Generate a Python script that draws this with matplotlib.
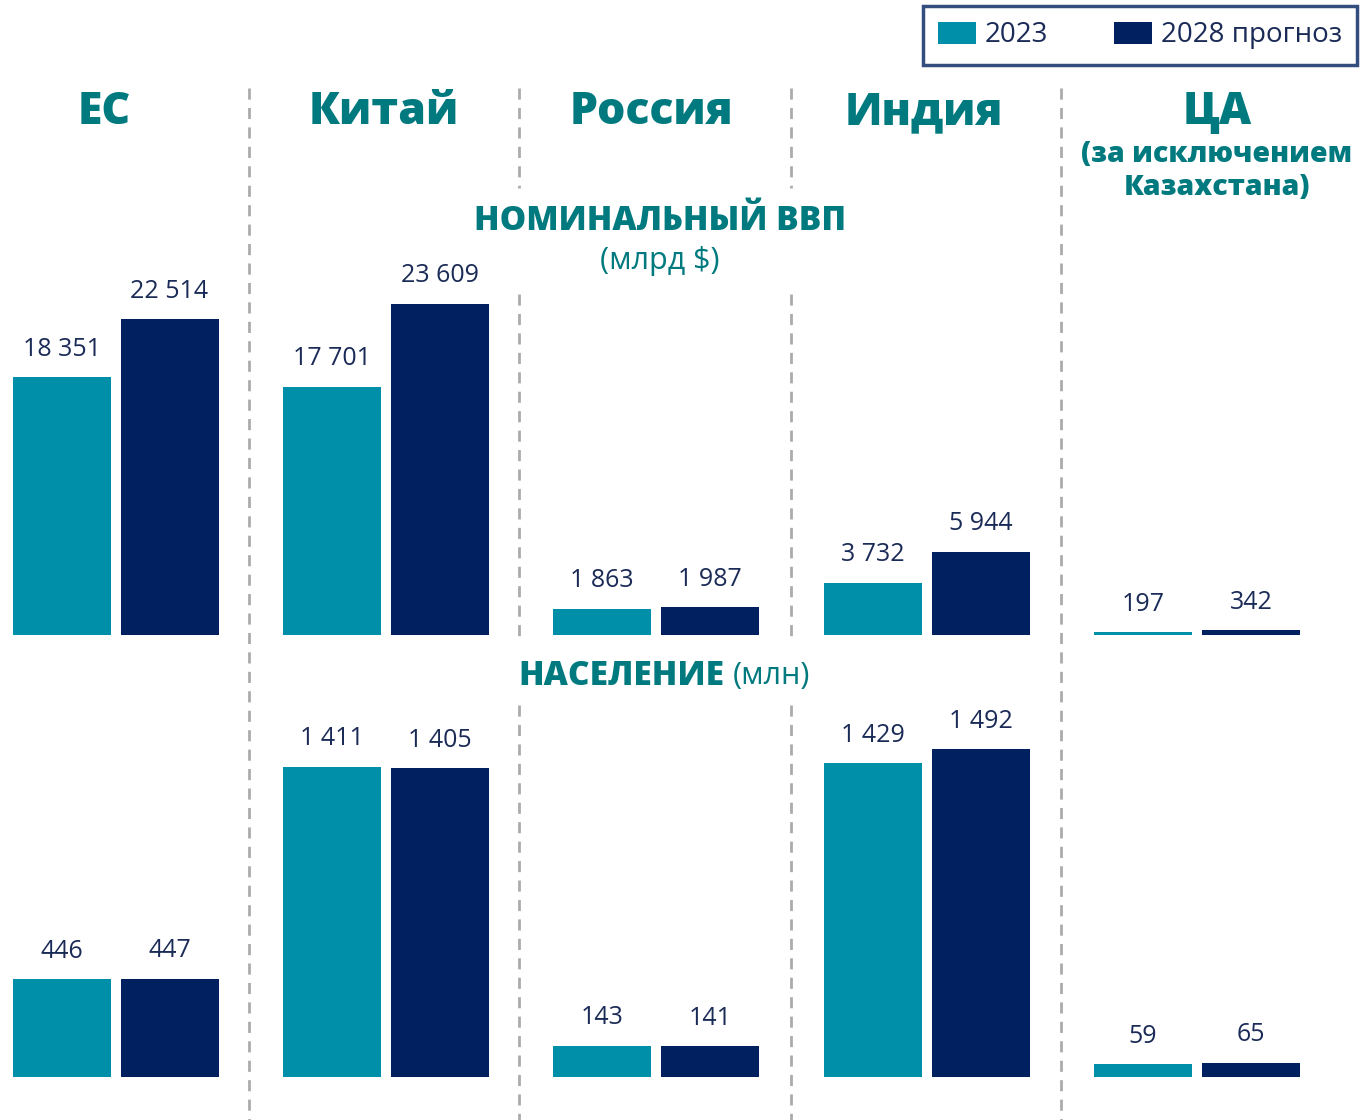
import matplotlib
matplotlib.use("Agg")
import matplotlib.pyplot as plt
import numpy as np

plt.rcParams['font.family'] = ['Open Sans', 'DejaVu Sans']

# Data
regions = ["ЕС", "Китай", "Россия", "Индия", "ЦА"]
gdp_2023 = [18351, 17701, 1863, 3732, 197]
gdp_2028 = [22514, 23609, 1987, 5944, 342]
pop_2023 = [446, 1411, 143, 1429, 59]
pop_2028 = [447, 1405, 141, 1492, 65]
series_names = ["2023", "2028 прогноз"]

TEAL = "#008FA9"
NAVY = "#00205F"
TITLE = "#007A7E"
LABEL = "#1B2B57"
SEP = "#ABABAB"

W, H = 1361, 1120
fig = plt.figure(figsize=(W / 100, H / 100), dpi=100)

# group layout (pixels)
x0_px, step_px = 115.5, 270.4
xlim = (-x0_px / step_px, (W - x0_px) / step_px)
bw = 98 / step_px
off = 54 / step_px
x = np.arange(len(regions))


def fmt(v):
    return f"{v:,}".replace(",", " ")


def px_axes(bottom_px, top_px):
    return fig.add_axes([0, (H - bottom_px) / H, 1, (bottom_px - top_px) / H])


# overlay for separators and titles (pixel coords, y down)
ov = fig.add_axes([0, 0, 1, 1], zorder=0)
ov.set_xlim(0, W)
ov.set_ylim(H, 0)
ov.axis("off")

seps = {249.5: [(88, H)], 519.5: [(88, 188), (294, 642), (705, H)],
        791: [(88, 188), (294, 642), (705, H)], 1061: [(88, H)]}
for sx, segs in seps.items():
    for a, b in segs:
        ov.plot([sx, sx], [a, b], color=SEP, lw=2, ls=(0, (4, 3)))

# region titles, placed on baseline so caps line up
title_x = [104, 384, 651, 924, 1217]
for t, tx in zip(regions, title_x):
    ov.text(tx, 124, t, ha="center", va="baseline", fontsize=32,
            fontweight=800, color=TITLE)
ov.text(1217, 171, "(за исключением\nКазахстана)", ha="center", va="center",
        fontsize=20.5, fontweight=800, color=TITLE, linespacing=1.2)
ov.text(660, 221, "НОМИНАЛЬНЫЙ ВВП", ha="center", va="center", fontsize=24,
        fontweight=800, color=TITLE)
ov.text(660, 261, "(млрд $)", ha="center", va="center", fontsize=22,
        color=TITLE)
ov.text(724, 676, "НАСЕЛЕНИЕ", ha="right", va="center", fontsize=24,
        fontweight=800, color=TITLE)
ov.text(733, 676, "(млн)", ha="left", va="center", fontsize=22,
        color=TITLE)

# GDP panel
ax1 = px_axes(635, 88)
ax1.set_xlim(*xlim)
ax1.set_ylim(0, 547 / (316 / 22514))
b1 = ax1.bar(x - off, gdp_2023, bw, color=TEAL, label=series_names[0])
b2 = ax1.bar(x + off, gdp_2028, bw, color=NAVY, label=series_names[1])
for bars in (b1, b2):
    for r in bars:
        ax1.annotate(fmt(int(r.get_height())),
                     (r.get_x() + r.get_width() / 2, r.get_height()),
                     xytext=(0, 28), textcoords="offset pixels",
                     ha="center", va="center", fontsize=18, color=LABEL)
ax1.axis("off")
ax1.patch.set_alpha(0)

# Population panel
ax2 = px_axes(1077, 700)
ax2.set_xlim(*xlim)
ax2.set_ylim(0, 377 / (98 / 446))
c1 = ax2.bar(x - off, pop_2023, bw, color=TEAL)
c2 = ax2.bar(x + off, pop_2028, bw, color=NAVY)
for bars in (c1, c2):
    for r in bars:
        ax2.annotate(fmt(int(r.get_height())),
                     (r.get_x() + r.get_width() / 2, r.get_height()),
                     xytext=(0, 28), textcoords="offset pixels",
                     ha="center", va="center", fontsize=18, color=LABEL)
ax2.axis("off")
ax2.patch.set_alpha(0)

leg = fig.legend(handles=[b1, b2], loc="upper right",
                 bbox_to_anchor=(1357 / W, 1 - 6 / H), ncol=2, fontsize=20,
                 frameon=True, fancybox=False, edgecolor=NAVY,
                 handlelength=1.37, handleheight=0.83, handletextpad=0.3,
                 columnspacing=2.4, borderpad=0.55, borderaxespad=0,
                 labelcolor=LABEL)
leg.get_frame().set_linewidth(2.5)

fig.savefig("out.png", dpi=100)
